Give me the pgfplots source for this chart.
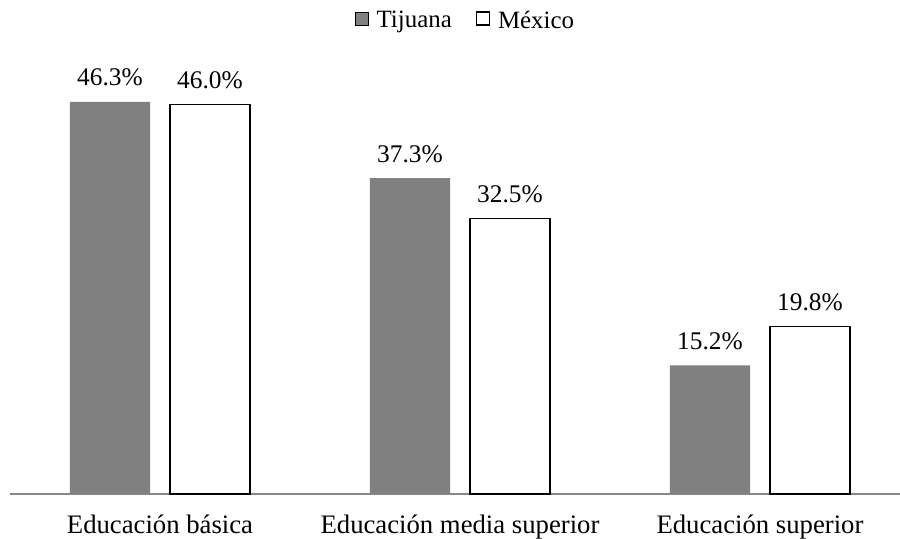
\documentclass[border=0pt]{standalone}
\usepackage{pgfplots}
\pgfplotsset{compat=1.18}
\usepackage{fontspec}
\setmainfont{Liberation Serif}
\definecolor{tjgray}{HTML}{808080}
\definecolor{axgray}{HTML}{888888}
\begin{document}
\begin{tikzpicture}
\begin{axis}[
  scale only axis,
  width=890bp, height=423.5bp,
  xmin=-0.5, xmax=2.4667,
  ymin=0, ymax=50,
  ybar=20bp, bar width=80bp,
  axis x line*=bottom,
  axis y line=none,
  x axis line style={axgray, line width=1.2bp},
  xtick={0,1,2},
  xticklabels={Educación básica, Educación media superior, Educación superior},
  major tick length=0pt,
  xticklabel style={anchor=base, yshift=-39bp, font=\fontsize{26.8}{32}\selectfont},
  ytick=\empty,
  /pgf/number format/assume math mode=true,
  nodes near coords={\pgfmathprintnumber[fixed,fixed zerofill,precision=1]{\pgfplotspointmeta}\%},
  every node near coord/.append style={anchor=base, yshift=16bp, inner sep=0pt, font=\fontsize{25.5}{30}\selectfont, black},
  legend columns=2,
  legend style={draw=none, fill=none, at={(axis description cs:0.512,1.119)}, anchor=center,
    font=\fontsize{25}{30}\selectfont, inner sep=0pt,
    /tikz/every odd column/.append style={column sep=6bp},
    /tikz/every even column/.append style={column sep=22bp}},
  legend image code/.code={\draw[#1] (0bp,-5bp) rectangle (13bp,8bp);},
  clip=false,
]
\addplot[fill=tjgray, draw=none] coordinates {(0,46.3) (1,37.3) (2,15.2)};
\addplot[fill=white, draw=black, line width=1.2bp] coordinates {(0,46.0) (1,32.5) (2,19.8)};
\legend{Tijuana, México}
\end{axis}
\pgfresetboundingbox
\path (-10bp,-45bp) rectangle (890bp,494bp);
\end{tikzpicture}
\end{document}
